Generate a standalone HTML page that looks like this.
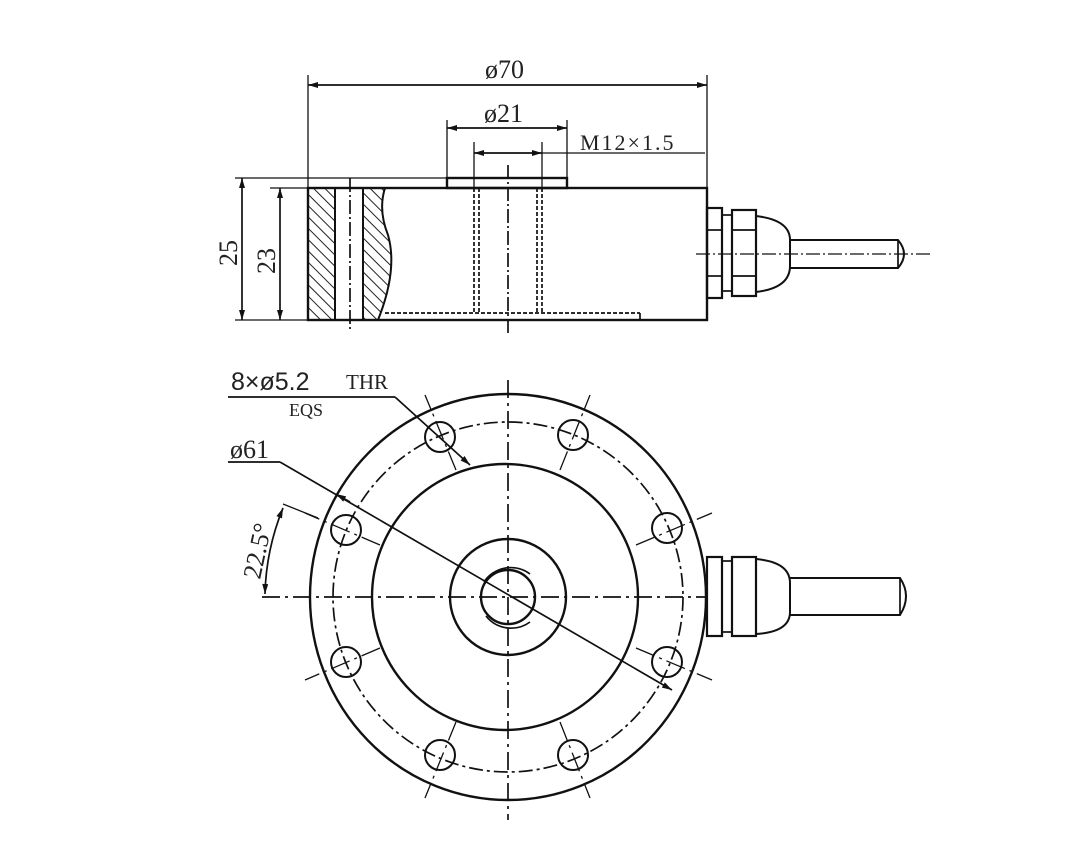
<!DOCTYPE html>
<html><head><meta charset="utf-8"><style>
html,body{margin:0;padding:0;background:#fff;}
svg{display:block;}
text{font-family:"Liberation Serif",serif;fill:#222;}
text.s{font-family:"Liberation Sans",sans-serif;}
</style></head><body>
<svg width="1082" height="857" viewBox="0 0 1082 857" xmlns="http://www.w3.org/2000/svg">
<defs>
<marker id="a" viewBox="0 0 10 6" refX="10" refY="3" markerWidth="13" markerHeight="6" orient="auto-start-reverse" markerUnits="userSpaceOnUse"><path d="M0,0 L10,3 L0,6 z" fill="#111"/></marker>
<pattern id="h" patternUnits="userSpaceOnUse" width="8" height="8" patternTransform="rotate(-45)"><line x1="0" y1="0" x2="0" y2="8" stroke="#222" stroke-width="2"/></pattern>
</defs>
<g stroke="#111" fill="none" stroke-width="1.7">
<rect x="308" y="188" width="399" height="132" stroke-width="2.4"/>
<rect x="447" y="178" width="120" height="10" stroke-width="2.4"/>
<rect x="308" y="188" width="27" height="132" fill="url(#h)" stroke-width="2"/>
<path d="M363,188 L385,188 Q378,210 388,235 Q398,270 378,320 L363,320 Z" fill="url(#h)" stroke-width="2"/>
<line x1="350" y1="178" x2="350" y2="332" stroke-dasharray="14,3,2,3"/>
<line x1="508" y1="165" x2="508" y2="335" stroke-dasharray="14,3,2,3"/>
<g stroke-dasharray="4,2"><line x1="474" y1="188" x2="474" y2="312"/><line x1="479" y1="188" x2="479" y2="312"/><line x1="537" y1="188" x2="537" y2="312"/><line x1="542" y1="188" x2="542" y2="312"/><line x1="385" y1="313" x2="640" y2="313"/></g>
<line x1="640" y1="313" x2="640" y2="320"/>
<line x1="308" y1="75" x2="308" y2="188" stroke-width="1.3"/>
<line x1="707" y1="75" x2="707" y2="188" stroke-width="1.3"/>
<line x1="308" y1="85" x2="707" y2="85" marker-start="url(#a)" marker-end="url(#a)"/>
<line x1="447" y1="120" x2="447" y2="178" stroke-width="1.3"/>
<line x1="567" y1="120" x2="567" y2="178" stroke-width="1.3"/>
<line x1="447" y1="128" x2="567" y2="128" marker-start="url(#a)" marker-end="url(#a)"/>
<line x1="474" y1="142" x2="474" y2="188" stroke-width="1.3"/>
<line x1="542" y1="142" x2="542" y2="188" stroke-width="1.3"/>
<line x1="474" y1="153" x2="542" y2="153" marker-start="url(#a)" marker-end="url(#a)"/>
<line x1="542" y1="153" x2="705" y2="153" stroke-width="1.3"/>
<line x1="235" y1="178" x2="447" y2="178" stroke-width="1.3"/>
<line x1="270" y1="188" x2="308" y2="188" stroke-width="1.3"/>
<line x1="235" y1="320" x2="308" y2="320" stroke-width="1.3"/>
<line x1="242" y1="178" x2="242" y2="320" marker-start="url(#a)" marker-end="url(#a)"/>
<line x1="280" y1="188" x2="280" y2="320" marker-start="url(#a)" marker-end="url(#a)"/>
<rect x="707" y="208" width="15" height="90" stroke-width="2.2"/>
<line x1="707" y1="230" x2="722" y2="230"/><line x1="707" y1="276" x2="722" y2="276"/>
<rect x="722" y="215" width="10" height="76"/>
<rect x="732" y="210" width="24" height="86" stroke-width="2.2"/>
<line x1="732" y1="230" x2="756" y2="230"/><line x1="732" y1="276" x2="756" y2="276"/>
<path d="M756,216 Q790,220 790,240 L790,266 Q790,288 756,292" stroke-width="2"/>
<path d="M790,240 L898,240 Q910,254 898,268 L790,268" stroke-width="2"/>
<line x1="898" y1="240" x2="898" y2="268"/>
<line x1="696" y1="254" x2="930" y2="254" stroke-dasharray="14,3,2,3" stroke-width="1.3"/>
<ellipse cx="508" cy="597" rx="198" ry="203" stroke-width="2.4"/>
<circle cx="508" cy="597" r="175" stroke-dasharray="14,4,3,4"/>
<circle cx="505" cy="597" r="133" stroke-width="2.4"/>
<circle cx="508" cy="597" r="58" stroke-width="2.4"/>
<circle cx="508" cy="597" r="27" stroke-width="2.4"/>
<path d="M484,582 A32,32 0 0 1 530,574" /><path d="M486,616 A32,32 0 0 0 530,622"/>
<line x1="262" y1="597" x2="706" y2="597" stroke-dasharray="18,5,3,5"/>
<line x1="508" y1="380" x2="508" y2="820" stroke-dasharray="18,5,3,5"/>
<g stroke-width="2">
<circle cx="440" cy="437" r="15"/><circle cx="573" cy="435" r="15"/>
<circle cx="346" cy="530" r="15"/><circle cx="667" cy="528" r="15"/>
<circle cx="346" cy="662" r="15"/><circle cx="667" cy="662" r="15"/>
<circle cx="440" cy="755" r="15"/><circle cx="573" cy="755" r="15"/>
</g>
<g stroke-width="1.3" stroke-dasharray="20,5,3,5">
<line x1="456" y1="470" x2="425" y2="395"/>
<line x1="560" y1="470" x2="590" y2="395"/>
<line x1="380" y1="545" x2="305" y2="513"/>
<line x1="636" y1="545" x2="712" y2="513"/>
<line x1="380" y1="648" x2="305" y2="680"/>
<line x1="636" y1="648" x2="712" y2="680"/>
<line x1="456" y1="722" x2="425" y2="798"/>
<line x1="560" y1="722" x2="590" y2="798"/>
</g>
<line x1="283" y1="504" x2="318" y2="518" stroke-width="1.3"/>
<path d="M283,508 A243,243 0 0 0 265,594" marker-start="url(#a)" marker-end="url(#a)"/>
<line x1="228" y1="397" x2="395" y2="397"/>
<line x1="395" y1="397" x2="470" y2="465" marker-end="url(#a)"/>
<line x1="228" y1="462" x2="280" y2="462"/>
<line x1="280" y1="462" x2="672" y2="690" marker-end="url(#a)"/>
<line x1="350" y1="502" x2="336" y2="494" marker-end="url(#a)"/>
<rect x="707" y="557" width="15" height="79" stroke-width="2.2"/>
<rect x="722" y="561" width="10" height="71"/>
<rect x="732" y="557" width="24" height="79" stroke-width="2.2"/>
<path d="M756,559 Q790,562 790,583 L790,612 Q790,632 756,634" stroke-width="2"/>
<path d="M790,578 L900,578 Q912,596 900,615 L790,615" stroke-width="2"/>
<line x1="900" y1="578" x2="900" y2="615"/>
</g>
<g font-size="26">
<text x="485" y="78">ø70</text>
<text x="484" y="122">ø21</text>
<text x="580" y="150" font-size="22" letter-spacing="2">M12×1.5</text>
<text transform="translate(237,266) rotate(-90)">25</text>
<text transform="translate(275,274) rotate(-90)">23</text>
<text class="s" x="231" y="390" font-size="25">8×ø5.2</text>
<text x="346" y="389" font-size="21">THR</text>
<text x="289" y="416" font-size="18">EQS</text>
<text x="230" y="458">ø61</text>
<text transform="translate(260,580) rotate(-78)">22.5°</text>
</g>
</svg>
</body></html>
